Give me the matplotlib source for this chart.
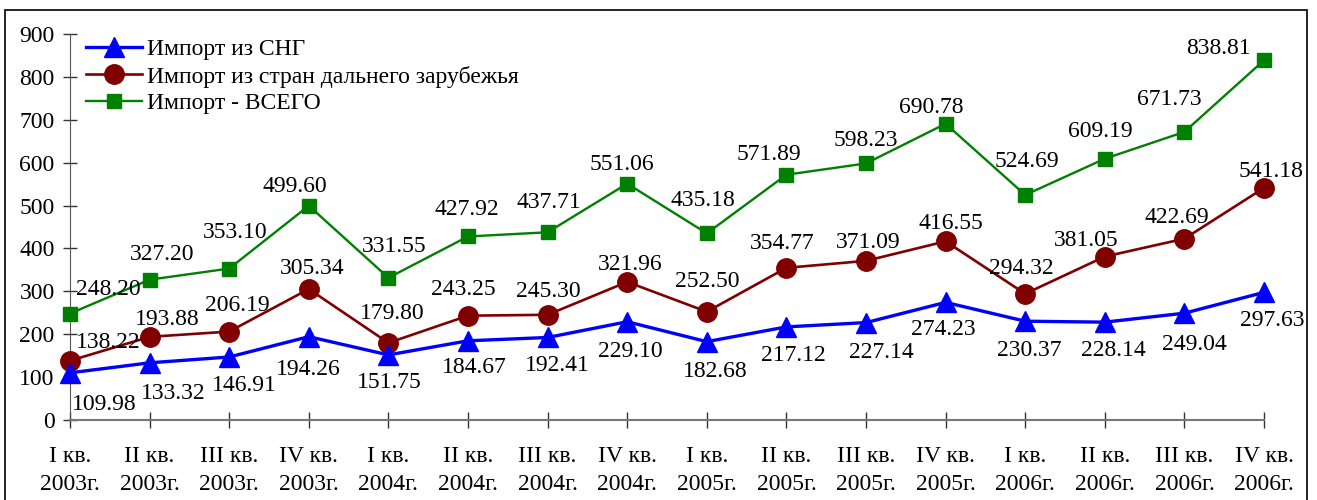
import matplotlib
matplotlib.use("Agg")
import matplotlib.pyplot as plt
from matplotlib.patches import Rectangle

quarters = ["I кв.\n2003г.", "II кв.\n2003г.", "III кв.\n2003г.", "IV кв.\n2003г.",
            "I кв.\n2004г.", "II кв.\n2004г.", "III кв.\n2004г.", "IV кв.\n2004г.",
            "I кв.\n2005г.", "II кв.\n2005г.", "III кв.\n2005г.", "IV кв.\n2005г.",
            "I кв.\n2006г.", "II кв.\n2006г.", "III кв.\n2006г.", "IV кв.\n2006г."]
cis = [109.98, 133.32, 146.91, 194.26, 151.75, 184.67, 192.41, 229.10,
       182.68, 217.12, 227.14, 274.23, 230.37, 228.14, 249.04, 297.63]
far = [138.22, 193.88, 206.19, 305.34, 179.80, 243.25, 245.30, 321.96,
       252.50, 354.77, 371.09, 416.55, 294.32, 381.05, 422.69, 541.18]
total = [248.20, 327.20, 353.10, 499.60, 331.55, 427.92, 437.71, 551.06,
         435.18, 571.89, 598.23, 690.78, 524.69, 609.19, 671.73, 838.81]
names = ["Импорт из СНГ", "Импорт из стран дальнего зарубежья", "Импорт - ВСЕГО"]

# label placement offsets (pixels) relative to each marker
cis_dx = [34, 24, 15, -1, 1, 6, 10, 3, 8, 7, 15, -2, 4, 9, 10, 8]
cis_dy = [-29, -28, -26, -30, -25, -24, -26, -27, -27, -26, -27, -25, -27, -26, -29, -26]
far_dx = [38, 18, 8, 3, 4, -5, 1, 3, 0, -4, 2, 5, -4, -19, -8, 7]
far_dy = [21, 20, 29, 23, 32, 29, 26, 20, 33, 27, 21, 20, 28, 19, 24, 19]
tot_dx = [38, 13, 6, -14, 6, -1, 1, -5, -4, -18, 0, -14, 2, -4, -15, -46]
tot_dy = [27, 28, 39, 22, 34, 29, 32, 22, 35, 23, 25, 19, 36, 30, 35, 14]

plt.rcParams['font.family'] = ['Liberation Serif', 'DejaVu Serif']
FS = 17

fig = plt.figure(figsize=(13.17, 5.0), dpi=100)
ax = fig.add_axes([70/1317, 1-420/500, (1264-70)/1317, (420-34)/500])
x = list(range(len(quarters)))

ax.plot(x, cis, color='#0000FF', lw=2.4, marker='^', ms=15, label=names[0], clip_on=False, zorder=5)
ax.plot(x, far, color='#800000', lw=1.9, marker='o', ms=14, label=names[1], clip_on=False, zorder=4)
ax.plot(x, total, color='#008000', lw=1.7, marker='s', ms=10.5, label=names[2], clip_on=False, zorder=3)

ax.set_xlim(0, 15)
ax.set_ylim(0, 900)
ax.set_yticks(range(0, 901, 100))
ax.set_xticks(x)
ax.set_xticklabels(quarters, fontsize=FS, linespacing=1.4)
ax.tick_params(axis='y', labelsize=FS, direction='inout', length=10, width=1, color='#333333', pad=6)
ax.tick_params(axis='x', direction='inout', length=12, width=1, color='#333333', pad=13)
for s in ['top', 'right']:
    ax.spines[s].set_visible(False)
ax.spines['left'].set_color('#555555')
ax.spines['bottom'].set_color('#777777')
ax.spines['bottom'].set_linewidth(1.5)

def lab(vals, dxs, dys):
    for i, v in enumerate(vals):
        ax.annotate(f"{v:.2f}", (i, v), xytext=(dxs[i], dys[i]), textcoords='offset pixels',
                    ha='center', va='center_baseline', fontsize=FS, zorder=6, annotation_clip=False)

lab(cis, cis_dx, cis_dy)
lab(far, far_dx, far_dy)
lab(total, tot_dx, tot_dy)

leg = ax.legend(loc='upper left', bbox_to_anchor=(0.0053, 1.012), frameon=False, fontsize=FS,
                handlelength=2.4, labelspacing=0.22, handletextpad=0.2, borderaxespad=0)

fig.add_artist(Rectangle((5/1317, -0.02), 1302/1317, 1-10/500+0.02, transform=fig.transFigure,
                         fill=False, edgecolor='black', lw=1.2))

fig.savefig("out.png", dpi=100)
